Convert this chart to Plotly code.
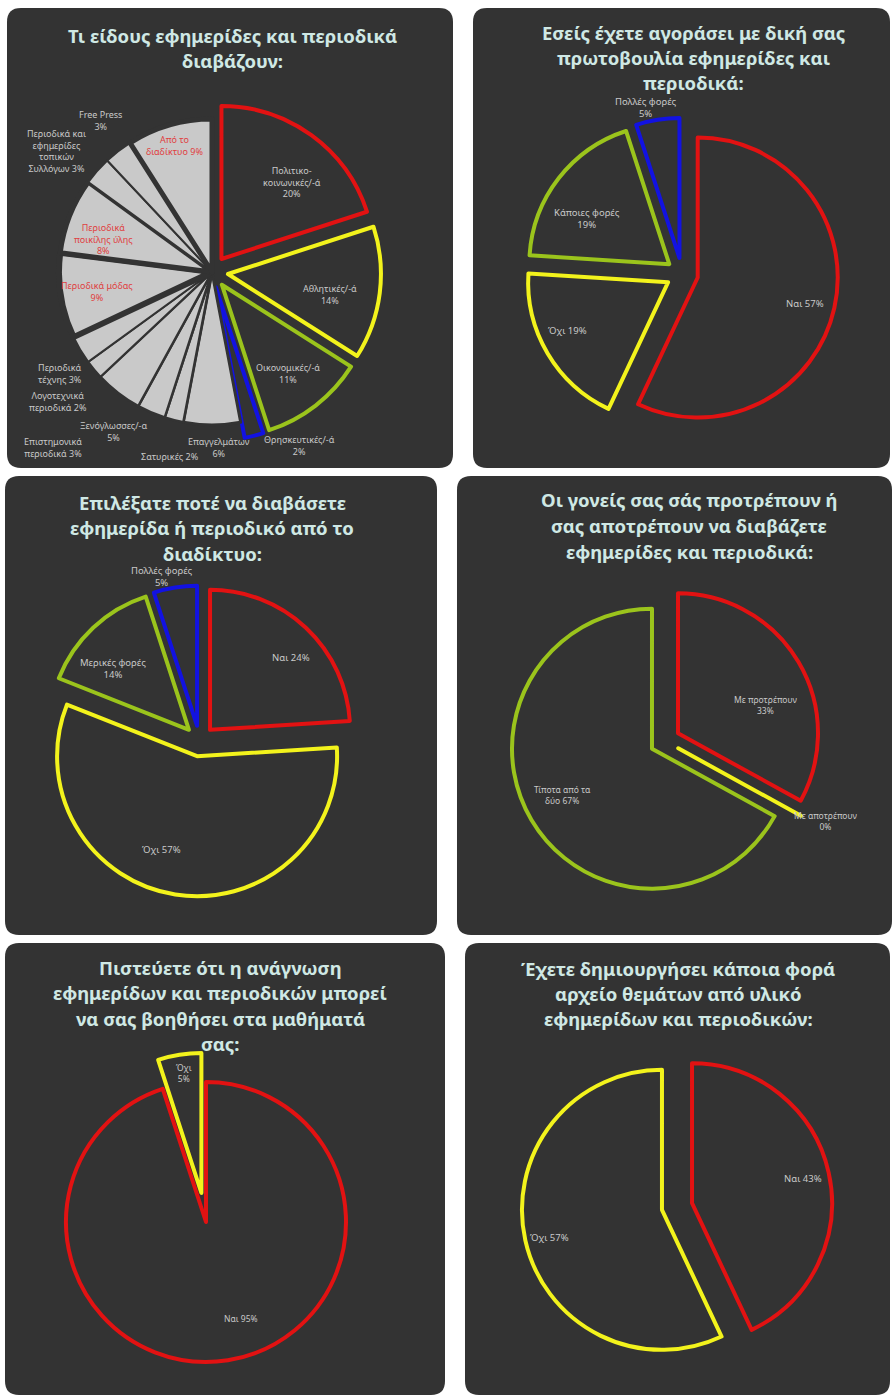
import plotly.graph_objects as go

FIG_W, FIG_H = 896, 1397

# ------------------------------------------------------------------ data
q1_title = ["Τι είδους εφημερίδες και περιοδικά", "διαβάζουν:"]
q1_categories = [
    "Πολιτικο-\nκοινωνικές/-ά",
    "Αθλητικές/-ά",
    "Οικονομικές/-ά",
    "Θρησκευτικές/-ά",
    "Επαγγελμάτων",
    "Σατυρικές",
    "Επιστημονικά\nπεριοδικά",
    "Ξενόγλωσσες/-α",
    "Λογοτεχνικά\nπεριοδικά",
    "Περιοδικά\nτέχνης",
    "Περιοδικά μόδας",
    "Περιοδικά\nποικίλης ύλης",
    "Περιοδικά και\nεφημερίδες\nτοπικών\nΣυλλόγων",
    "Free Press",
    "Από το\nδιαδίκτυο",
]
q1_values = [20, 14, 11, 2, 6, 2, 3, 5, 2, 3, 9, 8, 3, 3, 9]

q2_title = ["Εσείς έχετε αγοράσει με δική σας", "πρωτοβουλία εφημερίδες και", "περιοδικά:"]
q2_categories = ["Ναι", "Όχι", "Κάποιες φορές", "Πολλές φορές"]
q2_values = [57, 19, 19, 5]

q3_title = ["Επιλέξατε ποτέ να διαβάσετε", "εφημερίδα ή περιοδικό από το", "διαδίκτυο:"]
q3_categories = ["Ναι", "Όχι", "Μερικές φορές", "Πολλές φορές"]
q3_values = [24, 57, 14, 5]

q4_title = ["Οι γονείς σας σάς προτρέπουν ή", "σας αποτρέπουν να διαβάζετε", "εφημερίδες και περιοδικά:"]
q4_categories = ["Με προτρέπουν", "Με αποτρέπουν", "Τίποτα από τα\nδύο"]
q4_values = [33, 0, 67]

q5_title = ["Πιστεύετε ότι η ανάγνωση", "εφημερίδων και περιοδικών μπορεί",
            "να σας βοηθήσει στα μαθήματά", "σας:"]
q5_categories = ["Ναι", "Όχι"]
q5_values = [95, 5]

q6_title = ["Έχετε δημιουργήσει κάποια φορά", "αρχείο θεμάτων από υλικό",
            "εφημερίδων και περιοδικών:"]
q6_categories = ["Ναι", "Όχι"]
q6_values = [43, 57]

# ------------------------------------------------------------------ styling
PANEL = "#333333"
GRAY = "#c9c9c9"
RED = "#e21212"
YELLOW = "#f3f31c"
GREEN = "#9bc41c"
BLUE = "#1212e2"
TITLE_C = "#cfe8e4"
LABEL_C = "#c9c9c9"
LABEL_RED = "#e04040"
FONT = "'Noto Sans', 'DejaVu Sans', sans-serif"
OUTLINE = 4
TITLE_SIZE = 18.5
TITLE_LINE = 25.5


def pxx(x):
    return x / FIG_W


def pxy(y):
    return 1 - y / FIG_H


def rounded_rect(x0, y0, x1, y1, r=14):
    def P(x, y):
        return f"{pxx(x):.5f},{pxy(y):.5f}"
    return ("M " + P(x0 + r, y0) + " L " + P(x1 - r, y0) + " Q " + P(x1, y0) + " " + P(x1, y0 + r)
            + " L " + P(x1, y1 - r) + " Q " + P(x1, y1) + " " + P(x1 - r, y1)
            + " L " + P(x0 + r, y1) + " Q " + P(x0, y1) + " " + P(x0, y1 - r)
            + " L " + P(x0, y0 + r) + " Q " + P(x0, y0) + " " + P(x0 + r, y0) + " Z")


def pie_domain(cx, cy, r, max_pull):
    half = r * (1 + max_pull)
    return dict(x=[pxx(cx - half), pxx(cx + half)], y=[pxy(cy + half), pxy(cy - half)])


def label_text(name, value, newline):
    sep = "<br>" if newline else " "
    return name.replace("\n", "<br>") + sep + f"{value}%"


fig = go.Figure()

# panel backgrounds
panels = [
    (7, 8, 453, 468),
    (473, 8, 890, 468),
    (5, 476, 437, 935),
    (457, 476, 892, 935),
    (5, 943, 445, 1395),
    (465, 943, 890, 1395),
]
shapes = [dict(type="path", path=rounded_rect(*p), xref="paper", yref="paper",
               fillcolor=PANEL, line=dict(width=0), layer="below") for p in panels]

annotations = []


def add_title(lines, cx, first_y):
    for i, line in enumerate(lines):
        annotations.append(dict(text=line, x=pxx(cx), y=pxy(first_y + i * TITLE_LINE),
                                xref="paper", yref="paper", xanchor="center",
                                yanchor="middle", showarrow=False,
                                font=dict(family=FONT, size=TITLE_SIZE, color=TITLE_C,
                                          weight="bold")))


def add_labels(cats, vals, newlines, positions, colors, size=9.5):
    for c, v, nl, (x, y), col in zip(cats, vals, newlines, positions, colors):
        annotations.append(dict(text=label_text(c, v, nl), x=pxx(x), y=pxy(y), xref="paper",
                                yref="paper", xanchor="center", yanchor="middle",
                                showarrow=False, align="center",
                                font=dict(family=FONT, size=size, color=col)))


def add_pie(cats, vals, fills, lines, widths, pulls, cx, cy, r):
    fig.add_trace(go.Pie(
        labels=[c.replace("\n", " ") for c in cats], values=vals,
        sort=False, direction="clockwise", rotation=0,
        textinfo="none", hoverinfo="label+percent", pull=pulls,
        marker=dict(colors=fills, line=dict(color=lines, width=widths)),
        domain=pie_domain(cx, cy, r, max(pulls)), showlegend=False,
    ))


# 1. kinds of newspapers / magazines
n_gray = len(q1_values) - 4
add_pie(q1_categories, q1_values,
        [PANEL] * 4 + [GRAY] * n_gray,
        [RED, YELLOW, GREEN, BLUE] + [PANEL] * n_gray,
        [OUTLINE] * 4 + [3, 2.5, 2.5, 2.5, 2, 2, 6, 5, 2, 2, 5],
        [0.105] * 4 + [0] * n_gray,
        212, 272, 153)
add_title(q1_title, 232, 35)
add_labels(q1_categories, q1_values,
           [True, True, True, True, True, False, False, True, False, False, True, True, False, True, False],
           [(292, 182), (330, 294), (288, 373), (299, 445), (219, 447), (170, 457), (53, 447),
            (113, 431), (58, 401), (60, 374), (97, 292), (103, 239), (56, 151), (100, 120), (174, 146)],
           [LABEL_C] * 10 + [LABEL_RED, LABEL_RED, LABEL_C, LABEL_C, LABEL_RED], 9)

# 2. bought on own initiative
add_pie(q2_categories, q2_values, [PANEL] * 4, [RED, YELLOW, GREEN, BLUE], OUTLINE,
        [0.115] * 4, 682, 274, 140)
add_title(q2_title, 693, 32)
add_labels(q2_categories, q2_values, [False, False, True, True],
           [(805, 304), (567, 330), (587, 218), (646, 108)], [LABEL_C] * 4)

# 3. read online
add_pie(q3_categories, q3_values, [PANEL] * 4, [RED, YELLOW, GREEN, BLUE], OUTLINE,
        [0.11] * 4, 199.5, 741, 140)
add_title(q3_title, 212, 502)
add_labels(q3_categories, q3_values, [False, False, True, True],
           [(291, 658), (161, 849), (113, 669), (162, 576)], [LABEL_C] * 4)

# 4. parents' attitude
add_pie(q4_categories, q4_values, [PANEL] * 3, [RED, YELLOW, GREEN], OUTLINE,
        [0.108] * 3, 665, 741, 140)
add_title(q4_title, 689, 500)
add_labels(q4_categories, q4_values, [True, True, False],
           [(765, 705), (825, 821), (562, 795)], [LABEL_C] * 3, 8.5)

# 5. helps with lessons
add_pie(q5_categories, q5_values, [PANEL] * 2, [RED, YELLOW], OUTLINE,
        [0, 0.21], 206, 1222, 140)
add_title(q5_title, 220, 967)
add_labels(q5_categories, q5_values, [False, True],
           [(241, 1318), (184, 1073)], [LABEL_C] * 2, 8.5)

# 6. created an archive
add_pie(q6_categories, q6_values, [PANEL] * 2, [RED, YELLOW], OUTLINE,
        [0.11, 0.11], 677, 1206.5, 140)
add_title(q6_title, 678, 968)
add_labels(q6_categories, q6_values, [False, False],
           [(803, 1178), (549, 1237)], [LABEL_C] * 2)

fig.update_layout(
    width=FIG_W, height=FIG_H, autosize=False,
    margin=dict(l=0, r=0, t=0, b=0, pad=0),
    paper_bgcolor="white", plot_bgcolor="white",
    shapes=shapes, annotations=annotations, showlegend=False,
)

fig.write_html("out.html")
